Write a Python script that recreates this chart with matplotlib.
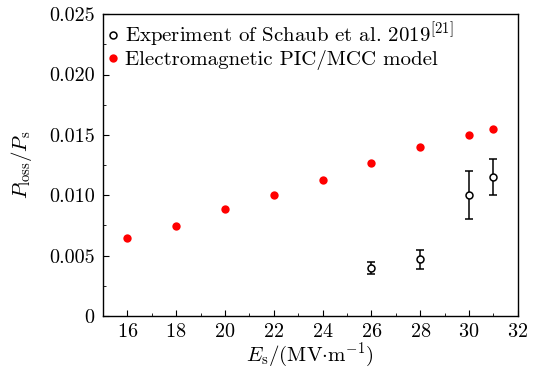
import matplotlib
matplotlib.use("Agg")
import matplotlib.pyplot as plt
from matplotlib.lines import Line2D
from matplotlib.ticker import MultipleLocator, FuncFormatter

plt.rcParams["font.family"] = "serif"
plt.rcParams["font.serif"] = ["cmr10"]
plt.rcParams["mathtext.fontset"] = "cm"
plt.rcParams["axes.formatter.use_mathtext"] = True
plt.rcParams["axes.unicode_minus"] = False

# PIC/MCC simulation results
e_model = [16, 18, 20, 22, 24, 26, 28, 30, 31]
loss_model = [0.0065, 0.00745, 0.0089, 0.0100, 0.0113, 0.0127, 0.0140, 0.0150, 0.0155]

# Schaub et al. 2019 measurements
e_exp = [26, 28, 30, 31]
loss_exp = [0.0040, 0.0047, 0.0100, 0.0115]
err_low = [0.0005, 0.0008, 0.0020, 0.0015]
err_high = [0.0005, 0.0008, 0.0020, 0.0015]

fig = plt.figure(figsize=(5.36, 3.72), dpi=100)
ax = fig.add_axes([0.192, 0.1505, 0.774, 0.8115])

ax.errorbar(e_exp, loss_exp, yerr=[err_low, err_high], fmt="o", mfc="white",
            mec="black", color="black", ms=5, mew=1.1, elinewidth=1.1,
            capsize=3, capthick=1.1, zorder=3)
ax.plot(e_model, loss_model, "o", color="#ff0000", ms=6, mec="none")

ax.set_xlim(15, 32)
ax.set_ylim(0, 0.025)
ax.xaxis.set_major_locator(MultipleLocator(2))
ax.xaxis.set_minor_locator(MultipleLocator(1))
ax.yaxis.set_major_locator(MultipleLocator(0.005))
ax.yaxis.set_minor_locator(MultipleLocator(0.0025))
ax.yaxis.set_major_formatter(FuncFormatter(lambda v, p: "0" if abs(v) < 1e-12 else f"{v:.3f}"))
ax.tick_params(which="both", direction="in", labelsize=14.5, pad=6)
ax.tick_params(axis="x", pad=5)
ax.tick_params(which="major", length=4)
ax.tick_params(which="minor", length=2.5)
for s in ax.spines.values():
    s.set_linewidth(1.0)

ax.set_xlabel(r"$E_{\rm s}/(\rm MV{\cdot}m^{-1})$", fontsize=15, labelpad=0)
ax.set_ylabel(r"$P_{\rm loss}/P_{\rm s}$", fontsize=15, labelpad=11)

# legend shows plain markers, without error bars
h_exp = Line2D([], [], ls="none", marker="o", mfc="white", mec="black", ms=5, mew=1.1)
h_mod = Line2D([], [], ls="none", marker="o", color="#ff0000", mec="none", ms=6)
ax.legend([h_exp, h_mod],
          [r"Experiment of Schaub et al. 2019$^{[21]}$", "Electromagnetic PIC/MCC model"],
          loc="upper left", bbox_to_anchor=(-0.015, 0.998), frameon=False, fontsize=15,
          handletextpad=0.05, handlelength=1.0, borderaxespad=0.0,
          borderpad=0.3, labelspacing=0.0)

fig.savefig("out.png", dpi=100)
